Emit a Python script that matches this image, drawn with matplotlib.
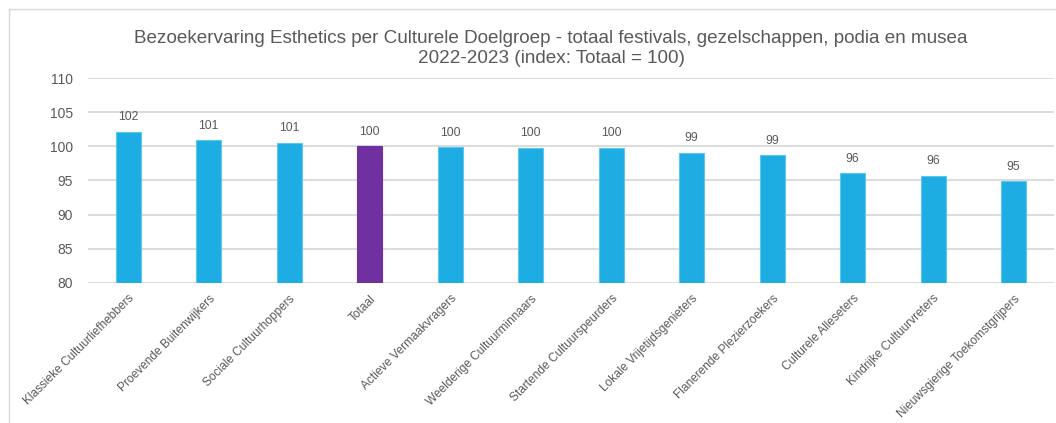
import matplotlib
matplotlib.use("Agg")
import matplotlib.pyplot as plt
from matplotlib.lines import Line2D

#Data
groepen = ["Klassieke Cultuurliefhebbers", "Proevende Buitenwijkers", "Sociale Cultuurhoppers",
           "Totaal", "Actieve Vermaakvragers", "Weelderige Cultuurminnaars",
           "Startende Cultuurspeurders", "Lokale Vrijetijdsgenieters", "Flanerende Plezierzoekers",
           "Culturele Alleseters", "Kindrijke Cultuurvreters", "Nieuwsgierige Toekomstgrijpers"]
index = [102.15, 100.95, 100.55, 100.0, 99.85, 99.8, 99.8, 99.05, 98.75, 96.05, 95.7, 94.95]

blauw = "#1eade3"
paars = "#7030a0"
grijs = "#595959"

plt.rcParams["font.family"] = ["Liberation Sans", "DejaVu Sans"]

fig = plt.figure(figsize=(10.56, 4.23), dpi=100)
ax = fig.add_axes([0.0833, 0.331, 0.9147, 0.4846])

#Bars
x = list(range(len(groepen)))
kleuren = [paars if g == "Totaal" else blauw for g in groepen]
bars = ax.bar(x, index, width=0.31, color=kleuren, edgecolor=[c if c == paars else "#5cc6ef" for c in kleuren],
              linewidth=0.8, zorder=3)

for b, v in zip(bars, index):
    ax.annotate(f"{v:.0f}", (b.get_x() + b.get_width() / 2, v), xytext=(0, 6),
                textcoords="offset points", ha="center", va="bottom", fontsize=8.8, color=grijs)

#Axis config
ax.set_ylim(80, 110)
ax.set_xlim(-0.5, len(groepen) - 0.5)
ax.set_yticks(range(80, 111, 5))
ax.grid(axis="y", color="#d9d9d9", linewidth=1.3, zorder=0)
for s in ax.spines.values():
    s.set_visible(False)
ax.tick_params(axis="y", length=0, pad=11, labelsize=10, labelcolor=grijs)
ax.tick_params(axis="x", length=0, pad=7)
ax.set_xticks(x)
ax.set_xticklabels(groepen, rotation=45, ha="right", va="top", rotation_mode="anchor",
                   fontsize=8.6, color=grijs)

fig.text(0.522, 0.885, "Bezoekervaring Esthetics per Culturele Doelgroep - totaal festivals, gezelschappen, podia en musea\n2022-2023 (index: Totaal = 100)",
         ha="center", va="center", fontsize=13.6, color=grijs, linespacing=1.25)

#Frame
fig.add_artist(Line2D([9 / 1056, 9 / 1056], [0, 1 - 9 / 423], color="#d9d9d9", linewidth=1))
fig.add_artist(Line2D([9 / 1056, 1], [1 - 9 / 423, 1 - 9 / 423], color="#d9d9d9", linewidth=1))

fig.savefig("out.png", dpi=100)
